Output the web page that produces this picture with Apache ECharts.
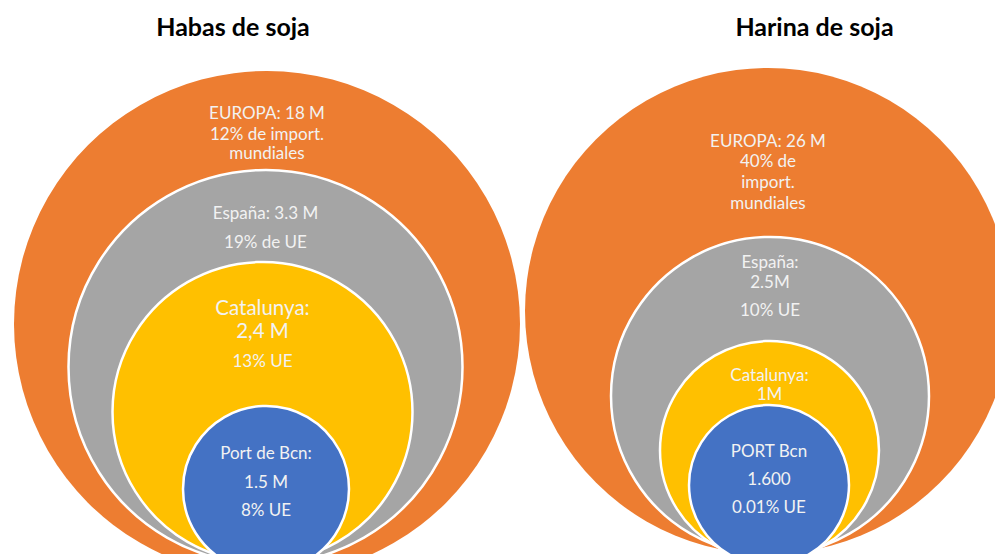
<!DOCTYPE html>
<html><head><meta charset="utf-8">
<script src="https://cdn.jsdelivr.net/npm/echarts@6/dist/echarts.min.js"></script>
<style>html,body{margin:0;padding:0;background:#fff}#c{width:995px;height:554px}</style>
</head><body><div id="c"></div>
<script>
// ---- data ----
const panelTitles = ['Habas de soja', 'Harina de soja'];
const levels = ['Europa', 'España', 'Catalunya', 'Port de Barcelona'];
const habasText = [
  ['EUROPA: 18 M', '12% de import.', 'mundiales'],
  ['España: 3.3 M', '19% de UE'],
  ['Catalunya:', '2,4 M', '13% UE'],
  ['Port de Bcn:', '1.5 M', '8% UE']
];
const harinaText = [
  ['EUROPA: 26 M', '40% de', 'import.', 'mundiales'],
  ['España:', '2.5M', '10% UE'],
  ['Catalunya:', '1M'],
  ['PORT Bcn', '1.600', '0.01% UE']
];

// ---- layout / style ----
const levelColors = ['#ED7D31', '#A5A5A5', '#FFC000', '#4472C4'];
const FONT = 'Lato, "Open Sans", sans-serif';
const TEXT_COLOR = '#F2F2F2';
const layout = [
  { title: [233, 26], circles: [
    { cx: 267,   cy: 324,   r: 253,   lines: [112, 133, 152], sizes: [17, 17, 17] },
    { cx: 265.5, cy: 367,   r: 197,   lines: [214, 243],      sizes: [17, 17] },
    { cx: 262.5, cy: 412,   r: 150,   lines: [308, 331, 362], sizes: [20.5, 20.5, 17] },
    { cx: 266,   cy: 489,   r: 83,    lines: [454, 483, 511], sizes: [17, 17, 17] }
  ]},
  { title: [814.5, 26], circles: [
    { cx: 768,   cy: 311,   r: 243,   lines: [140, 160, 181, 202], sizes: [17, 17, 17, 17] },
    { cx: 770,   cy: 396,   r: 159,   lines: [263, 283, 311], sizes: [17, 17, 17] },
    { cx: 769.5, cy: 450.5, r: 109.5, lines: [376, 395],      sizes: [17, 17] },
    { cx: 769,   cy: 485,   r: 80,    lines: [452, 480, 508], sizes: [17, 17, 17] }
  ]}
];

const allText = [habasText, harinaText];
const data = [];
layout.forEach((p, pi) => {
  p.circles.forEach((c, li) => {
    const lines = allText[pi][li];
    const rich = {};
    const hs = [];
    c.lines.forEach((y, i) => {
      let h;
      if (i === 0) h = c.lines.length > 1 ? c.lines[1] - c.lines[0] : 20;
      else h = 2 * (y - c.lines[i - 1]) - hs[i - 1];
      hs.push(h);
      rich['s' + i] = { fontSize: c.sizes[i], lineHeight: h, color: TEXT_COLOR, fontFamily: FONT };
    });
    const topOff = c.lines[0] - hs[0] / 2 - (c.cy - c.r);
    data.push({
      name: panelTitles[pi] + ' - ' + levels[li],
      value: [c.cx, c.cy],
      symbolSize: 2 * c.r,
      itemStyle: { color: levelColors[li], opacity: 1, borderColor: '#fff', borderWidth: li === 0 ? 0 : 2.5 },
      label: {
        show: true, position: ['50%', topOff], align: 'center', verticalAlign: 'top',
        formatter: lines.map((t, i) => '{s' + i + '|' + t + '}').join('\n'),
        rich
      }
    });
  });
});

const chart = echarts.init(document.getElementById('c'), null, { renderer: 'svg' });
chart.setOption({
  animation: false,
  title: panelTitles.map((t, i) => ({
    text: t, left: layout[i].title[0], top: layout[i].title[1] - 13, textAlign: 'center', padding: 0,
    textStyle: { fontFamily: FONT, fontWeight: 'bold', fontSize: 25, lineHeight: 26, color: '#000' }
  })),
  grid: { left: 0, right: 0, top: 0, bottom: 0 },
  xAxis: { type: 'value', min: 0, max: 995, show: false },
  yAxis: { type: 'value', min: 0, max: 554, inverse: true, show: false },
  series: [{
    type: 'scatter', symbol: 'circle', silent: true, clip: false,
    itemStyle: { opacity: 1 },
    data,
    labelLayout: { hideOverlap: false }
  }]
});
</script>
</body></html>
